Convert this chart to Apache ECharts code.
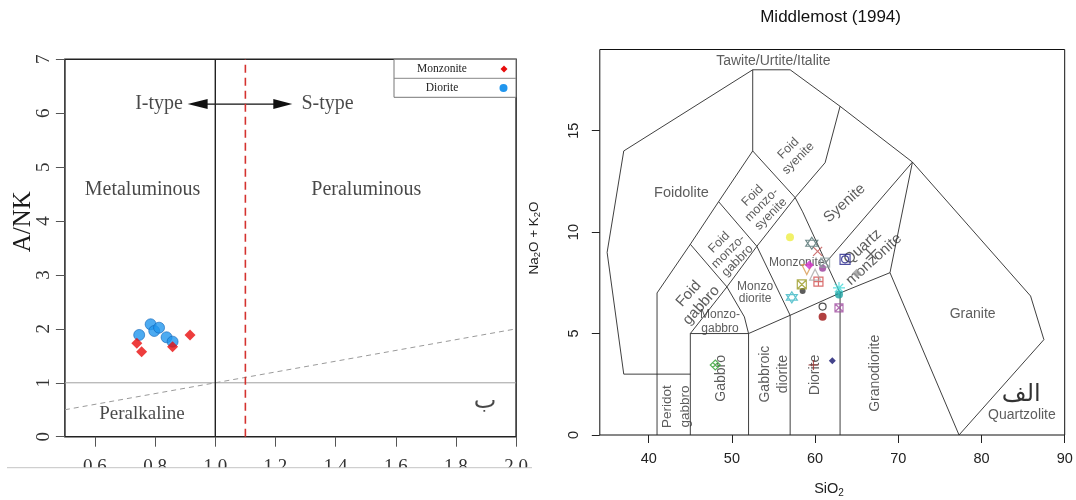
<!DOCTYPE html>
<html><head><meta charset="utf-8">
<script src="https://cdn.jsdelivr.net/npm/echarts@6/dist/echarts.min.js"></script>
<style>html,body{margin:0;padding:0;background:#fff}#c{width:1076px;height:500px}</style>
</head><body><div id="c"></div>
<script>
// ===== Left panel: A/CNK vs A/NK =====
const monzoniteACNK = [0.739, 0.755, 0.858, 0.916];
const monzoniteANK  = [1.733, 1.577, 1.670, 1.887];
const dioriteACNK   = [0.747, 0.785, 0.797, 0.813, 0.838, 0.858];
const dioriteANK    = [1.887, 2.085, 1.961, 2.022, 1.844, 1.763];
const leftXTicks = [0.6, 0.8, 1.0, 1.2, 1.4, 1.6, 1.8, 2.0];
const leftRegionNames = ['I-type', 'S-type', 'Metaluminous', 'Peraluminous', 'Peralkaline', 'ب'];
const leftRegionX = [0.813, 1.373, 0.758, 1.502, 0.756, 1.897];
const leftRegionY = [6.17, 6.17, 4.58, 4.58, 0.42, 0.65];
const arrowX = [0.908, 1.256];
const arrowY = 6.17;
const legendNames = ['Monzonite', 'Diorite'];
const acnkDivide = 1.0;     // metaluminous / peraluminous
const acnkITypeS = 1.1;     // I / S type
const ankDivide = 1.0;      // peralkaline

// ===== Right panel: Middlemost (1994) TAS =====
const tasSiO2 = [48.0, 59.8, 62.07, 60.9, 60.9, 62.87, 62.87, 62.87, 57.2, 58.5, 58.4, 60.4, 60.0, 59.0, 59.3, 60.9, 61.2, 60.3, 59.6, 56.98, 63.6, 65.0, 66.7];
const tasAlk  = [3.45, 3.45, 3.66, 5.83, 6.33, 6.27, 6.92, 7.25, 6.78, 7.1, 7.42, 7.56, 7.9, 8.15, 8.38, 8.22, 8.5, 9.05, 9.45, 9.75, 8.66, 7.97, 8.92];
const rightXTicks = [40, 50, 60, 70, 80, 90];
const rightYTicks = [0, 5, 10, 15];
const fieldBoundaries = [
  [[37,3],[35,9],[37,14],[52.5,18],[57,18],[63,16.2],[71.7,13.45],[85.9,6.85],[87.5,4.7],[77.3,0]],
  [[37,3],[45,3]],
  [[41,0],[41,7],[45,9.4],[48.4,11.5],[52.5,14],[52.5,18]],
  [[45,0],[45,5],[52,5],[52,0]],
  [[45,5],[49.4,7.3],[53,9.3],[57.6,11.7],[61.2,13.42],[63,16.2]],
  [[45,9.4],[49.4,7.3],[51.5,5.82],[52,5]],
  [[48.4,11.5],[53,9.3],[57,5.9],[57,0]],
  [[52.5,14],[57.6,11.7],[58.5,11.0],[63,7],[63,0]],
  [[52,5],[57,5.9],[63,7],[69,8],[71.7,13.45]],
  [[69,8],[77.3,0]],
  [[61.3,8.5],[71.7,13.45]]
];
const fieldNames = ['Tawite/Urtite/Italite','Foidolite','Foid\nsyenite','Foid\nmonzo-\nsyenite','Foid\nmonzo-\ngabbro','Foid\ngabbro','Monzo\ndiorite','Monzo-\ngabbro','Monzonite','Syenite','Quartz\nmonzonite','Granite','Quartzolite','Peridot\ngabbro','Gabbro','Gabbroic\ndiorite','Diorite','Granodiorite','الف'];
const fieldX = [54.98, 43.94, 57.38, 53.58, 49.57, 45.56, 52.78, 48.57, 57.79, 63.55, 66.4, 78.94, 84.86, 43.29, 48.71, 55.12, 60.0, 67.2, 84.78];
const fieldY = [18.41, 11.91, 13.88, 11.34, 9.04, 6.67, 7.02, 5.57, 8.5, 11.42, 8.96, 5.95, 0.99, 1.4, 2.79, 3.0, 2.96, 3.04, 1.97];

// ----- styles (kept apart from values) -----
const SERIF = '"Liberation Serif","Times New Roman",serif';
const SANS = '"Liberation Sans",Arial,sans-serif';
const fieldStyle = [
  {r:0,s:14,lh:16},{r:0,s:14.5,lh:16},{r:45,s:12.5,lh:14},{r:45,s:12.5,lh:13},{r:45,s:12.5,lh:13},
  {r:48,s:15,lh:17},{r:0,s:12,lh:12.5},{r:0,s:12,lh:14},{r:0,s:12,lh:14},{r:42,s:15,lh:17},
  {r:42,s:15,lh:17},{r:0,s:14,lh:16},{r:0,s:14,lh:16},{r:90,s:13.5,lh:18},{r:90,s:14,lh:16},
  {r:90,s:14,lh:18},{r:90,s:14,lh:16},{r:90,s:14,lh:16},{r:0,s:24,lh:26,f:'"DejaVu Sans",sans-serif',c:'#000'}
];
const P = {
  cross: 'path://M0,0L10,10M10,0L0,10',
  plus: 'path://M5,0L5,10M0,5L10,5',
  star: 'path://M5,0L5,10M0,5L10,5M1.5,1.5L8.5,8.5M8.5,1.5L1.5,8.5',
  sqx: 'path://M0,0L10,0L10,10L0,10ZM0,0L10,10M10,0L0,10',
  sqplus: 'path://M0,0L10,0L10,10L0,10ZM5,0L5,10M0,5L10,5',
  diax: 'path://M5,0L10,5L5,10L0,5ZM2.5,2.5L7.5,7.5M7.5,2.5L2.5,7.5',
  hexa: 'path://M5,0L9.33,7.5L0.67,7.5ZM5,10L0.67,2.5L9.33,2.5Z',
  sqcirc: 'path://M0,0L10,0L10,10L0,10ZM1.5,5A3.5,3.5,0,1,0,8.5,5A3.5,3.5,0,1,0,1.5,5Z',
  tridown: 'path://M0,1L10,1L5,9.5Z',
  ring: 'path://M0,5A5,5,0,1,0,10,5A5,5,0,1,0,0,5Z'
};
const tasStyle = [
  {s:P.diax,c:'#2e9e2e',z:10},{s:P.plus,c:'#a0302a',z:10},{s:'diamond',c:'#14146e',z:7,f:1},
  {s:'circle',c:'#9e1010',z:8,f:1},{s:P.ring,c:'#222',z:7},{s:P.sqx,c:'#a04ca0',z:8},
  {s:'circle',c:'#1aa3a3',z:8,f:1},{s:P.star,c:'#3fd8d8',z:12},{s:P.hexa,c:'#3ab6c4',z:11},
  {s:'circle',c:'#333',z:6,f:1},{s:P.sqx,c:'#9a9a20',z:9},{s:P.sqplus,c:'#d04848',z:9},
  {s:'triangle',c:'#a8a8a8',z:11,e:1},{s:P.tridown,c:'#d89a50',z:10},{s:'diamond',c:'#d030d0',z:9,f:1},
  {s:'circle',c:'#9a3a9a',z:7,f:1},{s:P.sqx,c:'#8fa0a0',z:9},{s:P.cross,c:'#c05050',z:9},
  {s:P.hexa,c:'#4e6e6e',z:12},{s:'circle',c:'#eeee44',z:8,f:1},{s:P.sqcirc,c:'#22228a',z:10},
  {s:'diamond',c:'#9a9a9a',z:9,f:1},{s:P.cross,c:'#3a3a3a',z:10}
];

function ln(i, pts, color, width, type) {
  return {type:'line', xAxisIndex:i, yAxisIndex:i, data:pts, symbol:'none', silent:true,
    animation:false, lineStyle:{color:color, width:width, type:type || 'solid'}, z:2};
}

const series = [];
// left reference lines
series.push(ln(0, [[0.5,0.5],[2.0,2.0]], '#9a9a9a', 1, [5,4]));
series.push(ln(0, [[0.5,ankDivide],[2.0,ankDivide]], '#a0a0a0', 1));
series.push(ln(0, [[acnkDivide,0],[acnkDivide,7]], '#222', 1.4));
series.push(ln(0, [[acnkITypeS,0],[acnkITypeS,7]], '#d4322f', 1.6, [8,5]));
// left region labels
series.push({type:'scatter', xAxisIndex:0, yAxisIndex:0, symbolSize:0, silent:true, animation:false, z:3,
  data: leftRegionNames.map((n,i)=>({name:n, value:[leftRegionX[i], leftRegionY[i]],
    label:{fontSize: i===4 ? 19 : (i===5 ? 24 : 20), fontFamily: i===5 ? '"DejaVu Sans",serif' : SERIF}})),
  label:{show:true, position:'inside', formatter:'{b}', color:'#1a1a1a', align:'center', verticalAlign:'middle'}});
// left data
series.push({type:'scatter', xAxisIndex:0, yAxisIndex:0, name:'Diorite', animation:false, z:5,
  data: dioriteACNK.map((x,i)=>[x, dioriteANK[i]]), symbol:'circle', symbolSize:11,
  itemStyle:{color:'#2196ee', borderColor:'#1567b8', borderWidth:0.8}});
series.push({type:'scatter', xAxisIndex:0, yAxisIndex:0, name:'Monzonite', animation:false, z:6,
  data: monzoniteACNK.map((x,i)=>[x, monzoniteANK[i]]), symbol:'diamond', symbolSize:11,
  itemStyle:{color:'#e80c0c'}});
// right boundaries
fieldBoundaries.forEach(b => series.push(ln(1, b, '#2a2a2a', 0.9)));
// right field labels
series.push({type:'scatter', xAxisIndex:1, yAxisIndex:1, symbolSize:0, silent:true, animation:false, z:3,
  data: fieldNames.map((n,i)=>({name:n, value:[fieldX[i], fieldY[i]],
    label:{rotate:fieldStyle[i].r, fontSize:fieldStyle[i].s, lineHeight:fieldStyle[i].lh,
      fontFamily:fieldStyle[i].f || SANS, color:fieldStyle[i].c || '#333'}})),
  label:{show:true, position:'inside', formatter:'{b}', align:'center', verticalAlign:'middle'}});
// right samples
series.push({type:'scatter', xAxisIndex:1, yAxisIndex:1, animation:false, z:6,
  data: tasSiO2.map((x,i)=>{
    const st = tasStyle[i];
    return {value:[x, tasAlk[i]], symbol:st.s, symbolSize:st.z,
      itemStyle: st.f ? {color:st.c} : {color:'rgba(0,0,0,0)', borderColor:st.c, borderWidth:1.2}};
  })});

const option = {
  backgroundColor:'#fff',
  animation:false,
  grid:[
    {left:64.9, top:59.3, width:451.2, height:377.4, show:true, borderColor:'#222', borderWidth:1.5, backgroundColor:'transparent'},
    {left:599.8, top:49.5, width:464.9, height:385.5, show:true, borderColor:'#111', borderWidth:1, backgroundColor:'transparent'}
  ],
  xAxis:[
    {type:'value', gridIndex:0, min:0.5, max:2.0, splitLine:{show:false}, axisLine:{show:false},
      axisTick:{show:true, customValues:leftXTicks, length:10, lineStyle:{color:'#555'}},
      axisLabel:{customValues:leftXTicks, formatter:v=>v.toFixed(1), fontFamily:SERIF, fontSize:19, color:'#333', margin:21}},
    {type:'value', gridIndex:1, min:34.12, max:90, splitLine:{show:false}, axisLine:{show:false},
      axisTick:{show:true, customValues:rightXTicks, length:8, lineStyle:{color:'#222'}},
      axisLabel:{customValues:rightXTicks, fontFamily:SANS, fontSize:14.5, color:'#222', margin:16}}
  ],
  yAxis:[
    {type:'value', gridIndex:0, min:0, max:7, interval:1, splitLine:{show:false}, axisLine:{show:false},
      axisTick:{show:true, length:9, lineStyle:{color:'#555'}},
      axisLabel:{rotate:90, fontFamily:SERIF, fontSize:19, color:'#333', margin:11}},
    {type:'value', gridIndex:1, min:0, max:19, splitLine:{show:false}, axisLine:{show:false},
      axisTick:{show:true, customValues:rightYTicks, length:8, lineStyle:{color:'#222'}},
      axisLabel:{customValues:rightYTicks, rotate:90, fontFamily:SANS, fontSize:14.5, color:'#222', margin:18}}
  ],
  series: series
};

const chart = echarts.init(document.getElementById('c'));
chart.setOption(option);

const a0 = chart.convertToPixel({gridIndex:0}, [arrowX[0], arrowY]);
const a1 = chart.convertToPixel({gridIndex:0}, [arrowX[1], arrowY]);
const g = [];
// arrow
g.push({type:'line', shape:{x1:a0[0]+15, y1:a0[1], x2:a1[0]-15, y2:a1[1]}, style:{stroke:'#111', lineWidth:1.2}});
g.push({type:'polygon', shape:{points:[[a0[0],a0[1]],[a0[0]+20,a0[1]-5],[a0[0]+20,a0[1]+5]]}, style:{fill:'#111'}});
g.push({type:'polygon', shape:{points:[[a1[0],a1[1]],[a1[0]-19,a1[1]-5],[a1[0]-19,a1[1]+5]]}, style:{fill:'#111'}});
// legend box
g.push({type:'rect', shape:{x:394, y:59.3, width:122, height:38}, style:{fill:'#fff', stroke:'#777', lineWidth:1}, z:10});
g.push({type:'line', shape:{x1:394, y1:78.3, x2:516, y2:78.3}, style:{stroke:'#888', lineWidth:1}, z:11});
g.push({type:'text', x:442, y:69, z:12, style:{text:legendNames[0], font:'11.5px '+SERIF, fill:'#222', textAlign:'center', textVerticalAlign:'middle'}});
g.push({type:'text', x:442, y:88, z:12, style:{text:legendNames[1], font:'11.5px '+SERIF, fill:'#222', textAlign:'center', textVerticalAlign:'middle'}});
g.push({type:'polygon', z:12, shape:{points:[[504,65.5],[507.5,69],[504,72.5],[500.5,69]]}, style:{fill:'#e80c0c'}});
g.push({type:'circle', z:12, shape:{cx:503.5, cy:88, r:4}, style:{fill:'#2196ee'}});
// left y axis name
g.push({type:'text', x:23, y:221.7, rotation:Math.PI/2, style:{text:'A/NK', font:'25px '+SERIF, fill:'#1a1a1a', textAlign:'center', textVerticalAlign:'middle'}});
// crop of the left picture
g.push({type:'rect', z:50, shape:{x:0, y:468, width:538, height:32}, style:{fill:'#fff'}});
g.push({type:'line', z:51, shape:{x1:7, y1:467.7, x2:532, y2:467.7}, style:{stroke:'#c4c4c4', lineWidth:1}});
// right title and axis names
g.push({type:'text', x:830.6, y:17, style:{text:'Middlemost (1994)', font:'17px '+SANS, fill:'#111', textAlign:'center', textVerticalAlign:'middle'}});
g.push({type:'text', x:829, y:489, style:{text:'{a|SiO}{b|2}', textAlign:'center', textVerticalAlign:'middle',
  rich:{a:{fontSize:14.5, fontFamily:SANS, fill:'#222', lineHeight:18}, b:{fontSize:10, fontFamily:SANS, fill:'#222', lineHeight:10, verticalAlign:'bottom'}}}});
g.push({type:'text', x:534, y:238, rotation:Math.PI/2, style:{text:'{a|Na}{b|2}{a|O + K}{b|2}{a|O}', textAlign:'center', textVerticalAlign:'middle',
  rich:{a:{fontSize:13.5, fontFamily:SANS, fill:'#222', lineHeight:17}, b:{fontSize:9.5, fontFamily:SANS, fill:'#222', lineHeight:9, verticalAlign:'bottom'}}}});
chart.setOption({graphic:g});
</script>
</body></html>
